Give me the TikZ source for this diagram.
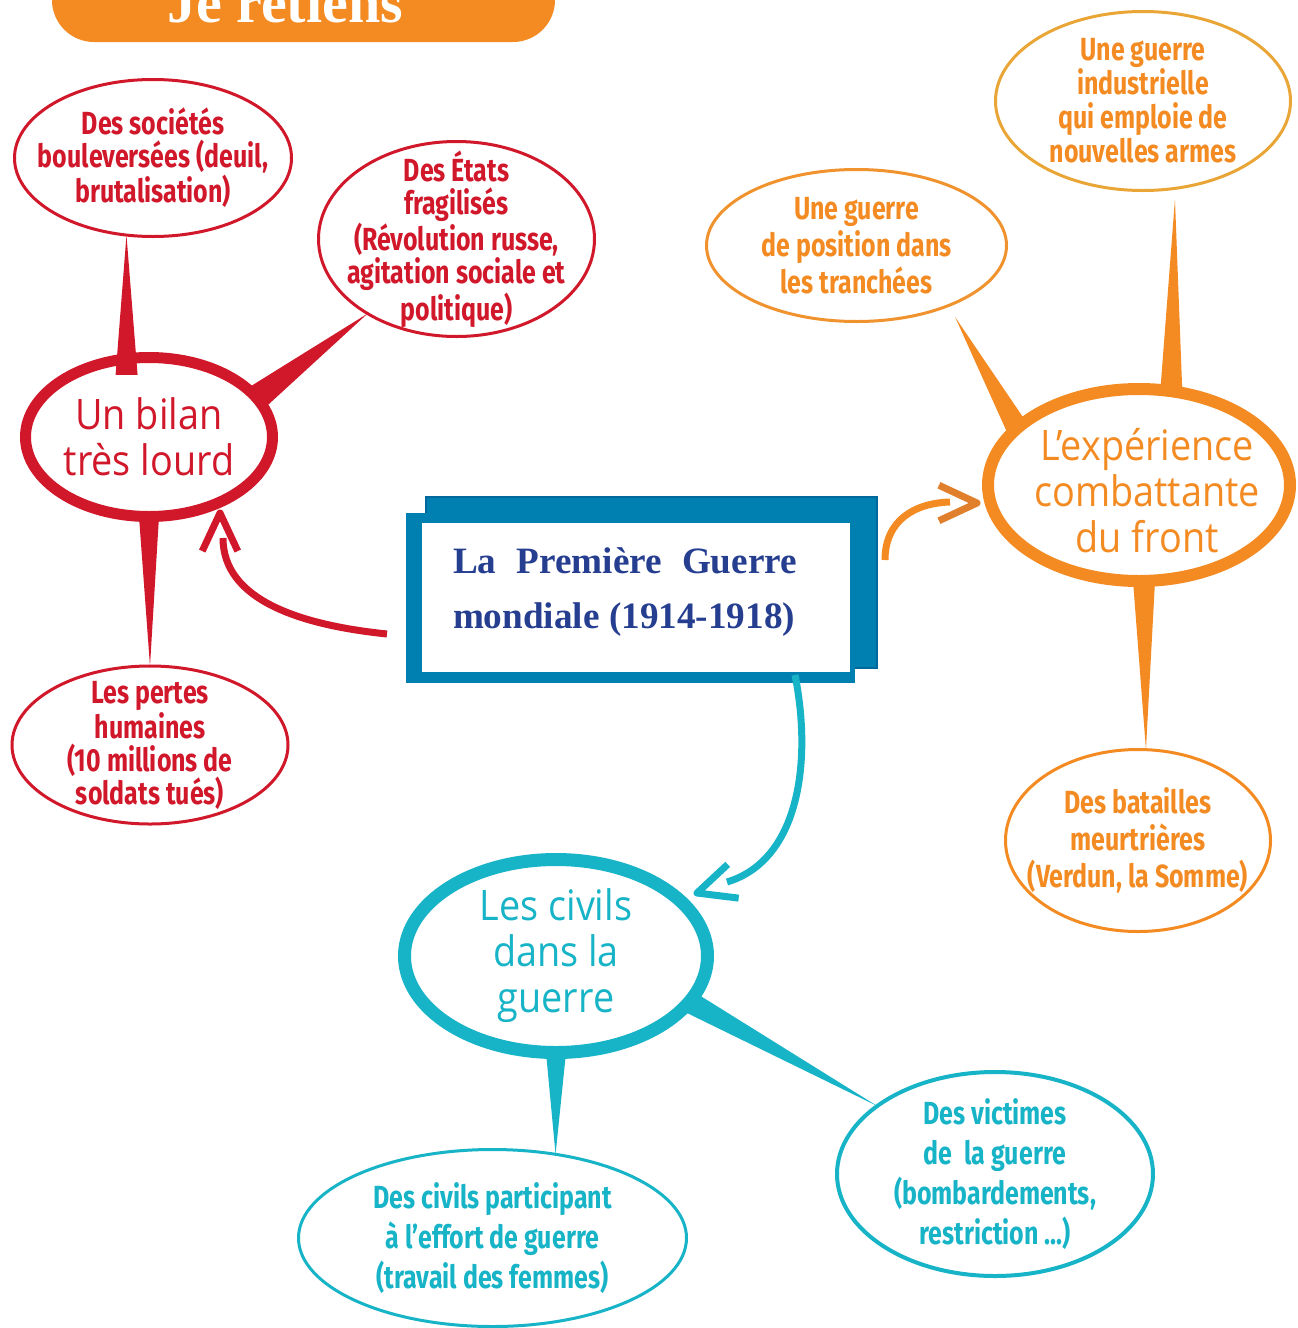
\documentclass[tikz,border=0pt]{standalone}
\usepackage{fontspec}
\usetikzlibrary{shapes.geometric,calc}
\setmainfont{Liberation Serif}
\newfontfamily\bubfont[FakeStretch=0.78]{Fira Sans}
\newfontfamily\bigfont[FakeStretch=0.9]{Open Sans}
\definecolor{rougeC}{HTML}{D1182B}
\definecolor{orangeC}{HTML}{F38B22}
\definecolor{orclair}{HTML}{F0922E}
\definecolor{orjaune}{HTML}{E9A637}
\definecolor{orfonce}{HTML}{E0802C}
\definecolor{turq}{HTML}{17B3C7}
\definecolor{bleubox}{HTML}{007FB1}
\definecolor{bleufonce}{HTML}{00689A}
\definecolor{marine}{HTML}{263E90}
\newcommand{\spike}[4]{\fill[#1] (#2) -- ($(#3)!#4!90:(#2)$) -- ($(#3)!#4!-90:(#2)$) -- cycle;}
\newcommand{\chevron}[3]{\draw[#1, line width=3.5pt, line join=round] ($(#2)+(#3+25:42)$) -- (#2) -- ($(#2)+(#3-25:42)$);}

\begin{document}
\begin{tikzpicture}[x=0.5pt,y=-0.5pt,
  bulle/.style={ellipse, inner sep=0pt, outer sep=0pt, fill=white},
  grande/.style={bulle, line width=5.5pt},
  petite/.style={bulle, line width=1.5pt},
  txtpetit/.style={font=\bubfont\bfseries\fontsize{16}{16.5}\selectfont, align=center},
  txtgrand/.style={font=\bigfont\fontsize{21}{23}\selectfont, align=center},
  fleche/.style={line width=3.5pt}]
\useasboundingbox (0,0) rectangle (1297,1328);
\fill[orangeC, rounded corners=21pt] (52,-80) rectangle (555,42);
\node[anchor=base, white, font=\bfseries\fontsize{29}{30}\selectfont] (entete) at (285,22) {Je retiens};

\node[petite, draw=rougeC, minimum width=138.5pt, minimum height=78.5pt,
  label={[txtpetit, rougeC]center:{Des sociétés\\bouleversées (deuil,\\brutalisation)}}] (societes) at (153,158) {};
\node[petite, draw=rougeC, minimum width=138pt, minimum height=97.5pt,
  label={[txtpetit, rougeC]center:{Des États\\fragilisés\\(Révolution russe,\\agitation sociale et\\politique)}}] (etats) at (456.5,239) {};
\node[petite, draw=rougeC, minimum width=138pt, minimum height=79pt,
  label={[txtpetit, rougeC]center:{Les pertes\\humaines\\(10 millions de\\soldats tués)}}] (pertes) at (150,745) {};
\node[grande, draw=rougeC, minimum width=123.5pt, minimum height=79.5pt,
  label={[txtgrand, rougeC]center:{Un bilan\\très lourd}}] (bilan) at (149,437) {};

\node[petite, draw=orclair, minimum width=150pt, minimum height=76pt,
  label={[txtpetit, orangeC, font=\bubfont\bfseries\fontsize{16}{18.5}\selectfont]center:{Une guerre\\de position dans\\les tranchées}}] (position) at (856.5,245.5) {};
\node[petite, draw=orjaune, minimum width=147.5pt, minimum height=89.5pt,
  label={[txtpetit, orangeC, font=\bubfont\bfseries\fontsize{16}{17}\selectfont]center:{Une guerre\\industrielle\\qui emploie de\\nouvelles armes}}] (industrie) at (1143,101) {};
\node[petite, draw=orangeC, minimum width=132.5pt, minimum height=91pt,
  label={[txtpetit, orangeC, font=\bubfont\bfseries\fontsize{16}{18.5}\selectfont]center:{Des batailles\\meurtrières\\(Verdun, la Somme)}}] (batailles) at (1138,840.5) {};
\node[grande, draw=orangeC, line width=6pt, minimum width=151pt, minimum height=96pt,
  label={[txtgrand, orangeC, xshift=4pt, yshift=-3pt]center:{L’expérience\\combattante\\du front}}] (front) at (1139,485) {};

\node[petite, draw=turq, minimum width=194pt, minimum height=88.5pt,
  label={[txtpetit, turq, font=\bubfont\bfseries\fontsize{16}{20}\selectfont]center:{Des civils participant\\à l’effort de guerre\\(travail des femmes)}}] (effort) at (492.5,1238) {};
\node[petite, draw=turq, line width=2pt, minimum width=158pt, minimum height=102pt,
  label={[txtpetit, turq, font=\bubfont\bfseries\fontsize{16}{20}\selectfont]center:{Des victimes\\de\ \ la guerre\\(bombardements,\\restriction ...)}}] (victimes) at (995,1174) {};
\node[grande, draw=turq, line width=6.5pt, minimum width=151.5pt, minimum height=96.5pt,
  label={[txtgrand, turq]center:{Les civils\\dans la\\guerre}}] (civils) at (556,956) {};

\spike{rougeC}{societes.-109}{$(bilan.106)+(0,16)$}{5.5pt}
\spike{rougeC}{etats.220}{bilan.20}{6.5pt}
\spike{rougeC}{pertes.north}{bilan.south}{5pt}
\spike{orangeC}{$(position)!1.15!(position.-36)$}{front.155}{5.5pt}
\spike{orangeC}{$(industrie)!1.12!(industrie.-72)$}{front.71}{5.5pt}
\spike{orangeC}{batailles.85}{front.-87}{5.5pt}
\spike{turq}{effort.53}{civils.south}{5pt}
\spike{turq}{victimes.150}{civils.-19}{5.5pt}

\node[rectangle, inner sep=0pt, outer sep=0pt, fill=bleubox, draw=bleufonce, line width=0.75pt,
  minimum width=225.5pt, minimum height=85.5pt] (arriere) at (651.5,582.5) {};
\node[rectangle, inner sep=0pt, outer sep=0pt, fill=bleubox,
  minimum width=224.5pt, minimum height=85pt] (cadre) at (630.5,598) {};
\node[rectangle, inner sep=0pt, outer sep=0pt, fill=white,
  minimum width=214pt, minimum height=74.5pt] (fond) at (636,597.5) {};
\node[marine, align=left, font=\bfseries\fontsize{18.6}{27.5}\selectfont] (titre) at (625,592)
  {\makebox[172pt][s]{La Première Guerre}\\mondiale (1914-1918)};

\coordinate (rdep) at ($(cadre.west)+(-19,36)$);
\coordinate (rfin) at ($(bilan)+(74,101)$);
\coordinate (rpointe) at ($(bilan)+(71,76)$);
\draw[fleche, rougeC] (rdep) .. controls ($(rdep)+(-87,-9)$) and ($(rfin)+(0,62)$) .. (rfin);
\chevron{rougeC}{rpointe}{90}

\coordinate (odep) at ($(cadre.east)+(30,-38)$);
\coordinate (ofin) at ($(front)+(-189,17)$);
\coordinate (opointe) at ($(front)+(-162,18)$);
\draw[fleche, orangeC] (odep) .. controls ($(odep)+(0,-40)$) and ($(ofin)+(-35,1)$) .. (ofin);
\chevron{orfonce}{opointe}{180}

\coordinate (tdep) at ($(cadre.south)+(164.5,-8)$);
\coordinate (tfin) at ($(civils)+(171,-74)$);
\coordinate (tpointe) at ($(civils)+(141,-63)$);
\draw[fleche, turq] (tdep) .. controls ($(tdep)+(17,85)$) and ($(tfin)+(73,-22)$) .. (tfin);
\chevron{turq}{tpointe}{-18}
\end{tikzpicture}
\end{document}
